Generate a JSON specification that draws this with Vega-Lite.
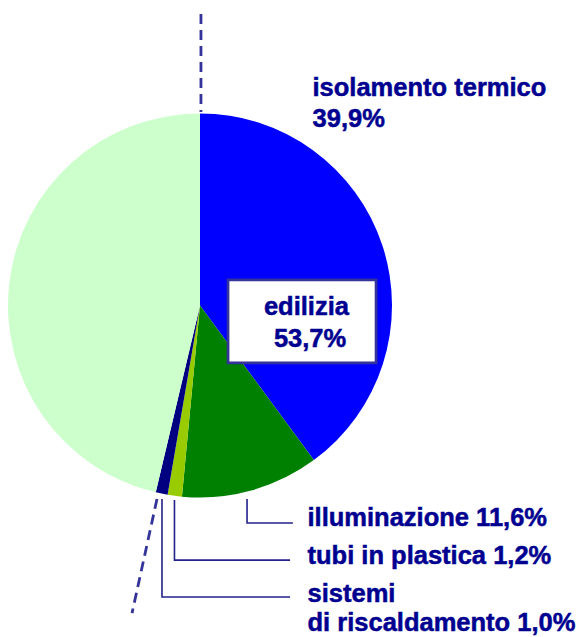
{
  "$schema": "https://vega.github.io/schema/vega-lite/v6.json",
  "width": 400,
  "height": 611,
  "autosize": {"type": "none"},
  "padding": {"left": 0, "top": 0, "right": 179, "bottom": 26},
  "background": "white",
  "config": {"view": {"stroke": null}},
  "datasets": {
    "slices": [
      {"settore": "isolamento termico", "quota": 39.9, "rank": 1},
      {"settore": "illuminazione", "quota": 11.6, "rank": 2},
      {"settore": "tubi in plastica", "quota": 1.2, "rank": 3},
      {"settore": "sistemi di riscaldamento", "quota": 1.0, "rank": 4},
      {"settore": "altri impieghi", "quota": 46.3, "rank": 5}
    ],
    "confine": [
      {"id": "inizio", "k": 0, "u": 0.005, "v": 1.518},
      {"id": "inizio", "k": 1, "u": 0.005, "v": 1.008},
      {"id": "fine", "k": 0, "u": -0.224, "v": -1.008},
      {"id": "fine", "k": 1, "u": -0.354, "v": -1.602}
    ],
    "richiami": [
      {"id": "illuminazione", "k": 0, "u": 0.245, "v": -1.008},
      {"id": "illuminazione", "k": 1, "u": 0.245, "v": -1.133},
      {"id": "illuminazione", "k": 2, "u": 0.484, "v": -1.133},
      {"id": "tubi", "k": 0, "u": -0.133, "v": -1.013},
      {"id": "tubi", "k": 1, "u": -0.133, "v": -1.326},
      {"id": "tubi", "k": 2, "u": 0.469, "v": -1.326},
      {"id": "sistemi", "k": 0, "u": -0.198, "v": -1.008},
      {"id": "sistemi", "k": 1, "u": -0.198, "v": -1.518},
      {"id": "sistemi", "k": 2, "u": 0.469, "v": -1.518}
    ],
    "riquadro": [
      {"u": 0.146, "u2": 0.917, "v": 0.133, "v2": -0.299}
    ],
    "etichette": [
      {"testo": "isolamento termico", "u": 0.586, "v": 1.089},
      {"testo": "39,9%", "u": 0.586, "v": 0.931},
      {"testo": "edilizia", "u": 0.333, "v": -0.049},
      {"testo": "53,7%", "u": 0.385, "v": -0.215},
      {"testo": "illuminazione 11,6%", "u": 0.56, "v": -1.148},
      {"testo": "tubi in plastica 1,2%", "u": 0.56, "v": -1.346},
      {"testo": "sistemi", "u": 0.56, "v": -1.542},
      {"testo": "di riscaldamento 1,0%", "u": 0.56, "v": -1.694}
    ]
  },
  "layer": [
    {
      "data": {"name": "slices"},
      "mark": {"type": "arc", "radius": 192},
      "encoding": {
        "theta": {"field": "quota", "type": "quantitative", "stack": true},
        "order": {"field": "rank", "type": "quantitative"},
        "color": {
          "field": "settore",
          "type": "nominal",
          "scale": {
            "domain": ["isolamento termico", "illuminazione", "tubi in plastica", "sistemi di riscaldamento", "altri impieghi"],
            "range": ["#0000FF", "#008000", "#99CC00", "#000080", "#CCFFCC"]
          },
          "legend": null
        }
      }
    },
    {
      "data": {"name": "confine"},
      "mark": {"type": "line", "strokeDash": [10, 6], "strokeWidth": 2.8, "color": "#333399"},
      "encoding": {
        "x": {"field": "u", "type": "quantitative", "axis": null, "scale": {"domain": [-1.041667, 1.041667], "nice": false, "zero": false}},
        "y": {"field": "v", "type": "quantitative", "axis": null, "scale": {"domain": [-1.591146, 1.591146], "nice": false, "zero": false}},
        "detail": {"field": "id"},
        "order": {"field": "k", "type": "quantitative"}
      }
    },
    {
      "data": {"name": "richiami"},
      "mark": {"type": "line", "strokeWidth": 1.6, "color": "#22228A"},
      "encoding": {
        "x": {"field": "u", "type": "quantitative", "axis": null, "scale": {"domain": [-1.041667, 1.041667], "nice": false, "zero": false}},
        "y": {"field": "v", "type": "quantitative", "axis": null, "scale": {"domain": [-1.591146, 1.591146], "nice": false, "zero": false}},
        "detail": {"field": "id"},
        "order": {"field": "k", "type": "quantitative"}
      }
    },
    {
      "data": {"name": "riquadro"},
      "mark": {"type": "rect", "fill": "white", "stroke": "#333399", "strokeWidth": 2.7},
      "encoding": {
        "x": {"field": "u", "type": "quantitative", "axis": null, "scale": {"domain": [-1.041667, 1.041667], "nice": false, "zero": false}},
        "x2": {"field": "u2"},
        "y": {"field": "v", "type": "quantitative", "axis": null, "scale": {"domain": [-1.591146, 1.591146], "nice": false, "zero": false}},
        "y2": {"field": "v2"}
      }
    },
    {
      "data": {"name": "etichette"},
      "mark": {"type": "text", "align": "left", "baseline": "alphabetic", "font": "Liberation Sans", "fontWeight": "bold", "fontSize": 25.5, "color": "#000090", "stroke": "#000090", "strokeWidth": 0.5},
      "encoding": {
        "x": {"field": "u", "type": "quantitative", "axis": null, "scale": {"domain": [-1.041667, 1.041667], "nice": false, "zero": false}},
        "y": {"field": "v", "type": "quantitative", "axis": null, "scale": {"domain": [-1.591146, 1.591146], "nice": false, "zero": false}},
        "text": {"field": "testo"}
      }
    }
  ]
}
